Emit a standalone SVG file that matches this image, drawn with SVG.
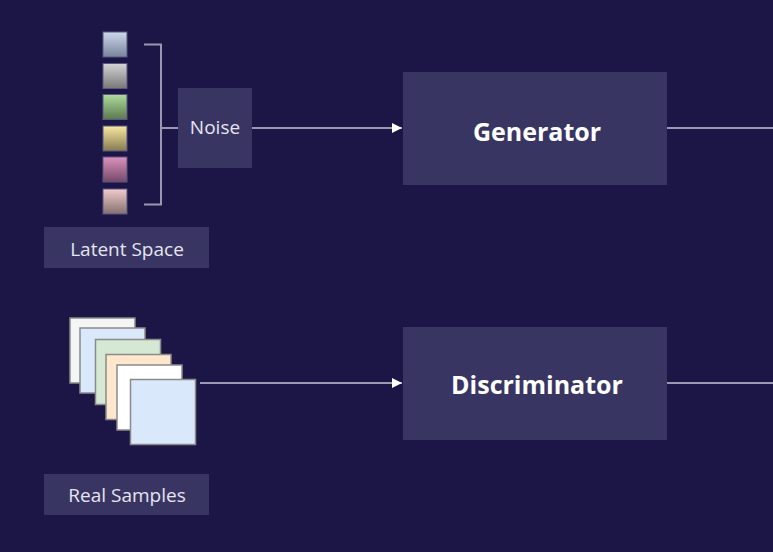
<svg xmlns="http://www.w3.org/2000/svg" width="773" height="552" viewBox="0 0 773 552">
<defs>
<style>
.box{fill:#393562;}
.lbl{font-family:"Open Sans","Noto Sans",sans-serif;fill:#e6e4f0;text-anchor:middle;dominant-baseline:central;}
.big{font-size:25px;font-weight:bold;fill:#ffffff;}
.sm{font-size:19px;}
.conn{stroke:#9a97b3;stroke-width:2;fill:none;}
.sw{stroke:#5a5680;stroke-width:1;}
.card{stroke:#8a8a8a;stroke-width:1.5;}
</style>
<marker id="arr" viewBox="0 0 10 10" refX="10" refY="5" markerWidth="5" markerHeight="5" orient="auto" markerUnits="strokeWidth">
<path d="M0,0 L10,5 L0,10 z" fill="#ffffff"/>
</marker>
<linearGradient id="g1" x1="0" y1="0" x2="0" y2="1"><stop offset="0" stop-color="#cdd8ec"/><stop offset="1" stop-color="#78849a"/></linearGradient>
<linearGradient id="g2" x1="0" y1="0" x2="0" y2="1"><stop offset="0" stop-color="#d4d4d4"/><stop offset="1" stop-color="#787878"/></linearGradient>
<linearGradient id="g3" x1="0" y1="0" x2="0" y2="1"><stop offset="0" stop-color="#aedb9c"/><stop offset="1" stop-color="#5a784e"/></linearGradient>
<linearGradient id="g4" x1="0" y1="0" x2="0" y2="1"><stop offset="0" stop-color="#f8e8a2"/><stop offset="1" stop-color="#857a50"/></linearGradient>
<linearGradient id="g5" x1="0" y1="0" x2="0" y2="1"><stop offset="0" stop-color="#dc92bc"/><stop offset="1" stop-color="#744868"/></linearGradient>
<linearGradient id="g6" x1="0" y1="0" x2="0" y2="1"><stop offset="0" stop-color="#f2cccc"/><stop offset="1" stop-color="#867070"/></linearGradient>
</defs>
<rect x="0" y="0" width="773" height="552" fill="#1b1646"/>

<g id="latent-swatches">
<rect class="sw" x="103" y="32" width="24" height="25" fill="url(#g1)"/>
<rect class="sw" x="103" y="63.5" width="24" height="25" fill="url(#g2)"/>
<rect class="sw" x="103" y="94.5" width="24" height="25" fill="url(#g3)"/>
<rect class="sw" x="103" y="126" width="24" height="25" fill="url(#g4)"/>
<rect class="sw" x="103" y="157" width="24" height="25" fill="url(#g5)"/>
<rect class="sw" x="103" y="189" width="24" height="25" fill="url(#g6)"/>
</g>

<g id="real-samples-cards">
<rect class="card" x="70" y="318" width="65" height="65" fill="#f5f5f5"/>
<rect class="card" x="80" y="328" width="65" height="65" fill="#dae8fc"/>
<rect class="card" x="95.5" y="339.5" width="65" height="65" fill="#d5e8d4"/>
<rect class="card" x="106" y="354.5" width="65" height="65" fill="#ffe6cc"/>
<rect class="card" x="117" y="365" width="65" height="65" fill="#ffffff"/>
<rect class="card" x="130.5" y="379.5" width="65" height="65" fill="#dae8fc"/>
</g>

<g id="connectors">
<path class="conn" d="M144,44.5 H161 V204.5 H144"/>
<path class="conn" d="M161,128 H178"/>
<path class="conn" d="M252,128 H402" marker-end="url(#arr)"/>
<path class="conn" d="M667,128 H773"/>
<path class="conn" d="M200,383 H402" marker-end="url(#arr)"/>
<path class="conn" d="M667,383 H773"/>
</g>

<g id="noise">
<rect class="box" x="178" y="88" width="74" height="80"/>
<text class="lbl sm" x="215" y="127">Noise</text>
</g>

<g id="latent-space">
<rect class="box" x="44" y="227" width="165" height="41"/>
<text class="lbl sm" x="127" y="249">Latent Space</text>
</g>

<g id="real-samples">
<rect class="box" x="44" y="474" width="165" height="41"/>
<text class="lbl sm" x="127" y="495">Real Samples</text>
</g>

<g id="generator">
<rect class="box" x="403" y="72" width="264" height="113"/>
<text class="lbl big" x="537" y="131">Generator</text>
</g>

<g id="discriminator">
<rect class="box" x="403" y="327" width="264" height="113"/>
<text class="lbl big" x="537" y="384">Discriminator</text>
</g>
</svg>
